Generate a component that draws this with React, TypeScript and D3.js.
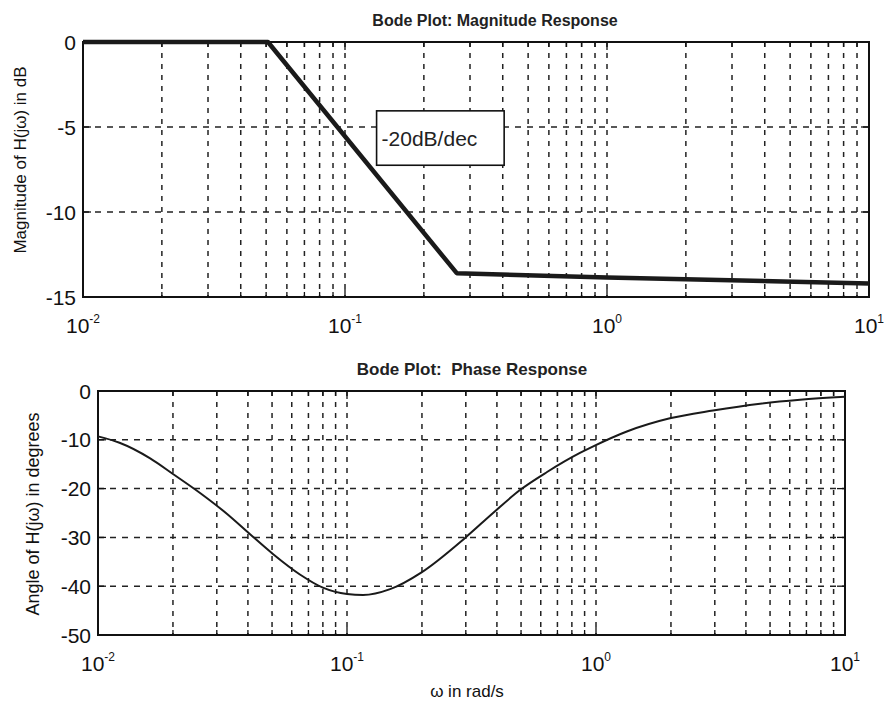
import { useEffect, useRef } from "react";
import * as d3 from "d3";

// x axis: decades shown as 10^e
const decadeExps = [-2, -1, 0, 1];

// magnitude response (asymptotic)
const magFreq = [0.01, 0.0508, 0.267, 1, 10];
const magDb = [0, 0, -13.6, -13.85, -14.2];
const magTicks = [0, -5, -10, -15];

// phase response
const phaseFreq = [
  0.01, 0.0122, 0.0162, 0.02, 0.0257, 0.033, 0.0407, 0.0504, 0.0647, 0.08,
  0.1, 0.116, 0.149, 0.2, 0.298, 0.386, 0.495, 0.636, 0.862, 0.97, 1.33,
  1.98, 2.95, 4.56, 6.6, 10,
];
const phaseDeg = [
  -9.3, -10.6, -13.8, -17.0, -20.9, -25.2, -29.3, -33.4, -37.6, -40.3, -41.6,
  -41.8, -40.6, -37.1, -30.1, -25.0, -20.3, -16.6, -12.7, -11.4, -8.3, -5.6,
  -4.0, -2.6, -1.8, -1.2,
];
const phaseTicks = [0, -10, -20, -30, -40, -50];

const FONT = "'Liberation Sans', Arial, sans-serif";

export default function App() {
  const svgRef = useRef<SVGSVGElement>(null);

  useEffect(() => {
    const svg = d3.select(svgRef.current);
    svg.selectAll("*").remove();

    const gridFreqs: number[] = [];
    for (let e = -2; e < 1; e++) {
      for (let m = 1; m < 10; m++) gridFreqs.push(m * Math.pow(10, e));
    }
    gridFreqs.push(10);

    function panel(
      box: { left: number; right: number; top: number; bottom: number },
      yDomain: [number, number],
      yTicks: number[],
    ) {
      const x = d3.scaleLog().domain([0.01, 10]).range([box.left, box.right]);
      const y = d3.scaleLinear().domain(yDomain).range([box.bottom, box.top]);
      const g = svg.append("g");

      const inner = gridFreqs.filter((f) => f > 0.0101 && f < 9.99);
      g.selectAll(".vg")
        .data(inner)
        .join("line")
        .attr("x1", (d) => x(d))
        .attr("x2", (d) => x(d))
        .attr("y1", box.top)
        .attr("y2", box.bottom)
        .attr("stroke", "#222")
        .attr("stroke-width", 1.5)
        .attr("stroke-dasharray", "5,6");

      g.selectAll(".hg")
        .data(yTicks.filter((t) => t !== yDomain[0] && t !== yDomain[1]))
        .join("line")
        .attr("x1", box.left)
        .attr("x2", box.right)
        .attr("y1", (d) => y(d))
        .attr("y2", (d) => y(d))
        .attr("stroke", "#222")
        .attr("stroke-width", 1.5)
        .attr("stroke-dasharray", "6,6");

      // tick marks (inward) on all sides
      gridFreqs.forEach((f) => {
        const major = decadeExps.some((e) => Math.abs(Math.log10(f) - e) < 1e-6);
        const len = major ? 8 : 5;
        g.append("line")
          .attr("x1", x(f)).attr("x2", x(f))
          .attr("y1", box.bottom).attr("y2", box.bottom - len)
          .attr("stroke", "#111").attr("stroke-width", 1.3);
        g.append("line")
          .attr("x1", x(f)).attr("x2", x(f))
          .attr("y1", box.top).attr("y2", box.top + len)
          .attr("stroke", "#111").attr("stroke-width", 1.3);
      });
      yTicks.forEach((t) => {
        g.append("line")
          .attr("x1", box.left).attr("x2", box.left + 8)
          .attr("y1", y(t)).attr("y2", y(t))
          .attr("stroke", "#111").attr("stroke-width", 1.3);
        g.append("line")
          .attr("x1", box.right).attr("x2", box.right - 8)
          .attr("y1", y(t)).attr("y2", y(t))
          .attr("stroke", "#111").attr("stroke-width", 1.3);
      });

      g.append("rect")
        .attr("x", box.left)
        .attr("y", box.top)
        .attr("width", box.right - box.left)
        .attr("height", box.bottom - box.top)
        .attr("fill", "none")
        .attr("stroke", "#111")
        .attr("stroke-width", 2);

      g.selectAll(".yl")
        .data(yTicks)
        .join("text")
        .attr("x", box.left - 7)
        .attr("y", (d) => y(d))
        .attr("dy", "0.36em")
        .attr("text-anchor", "end")
        .attr("font-family", FONT)
        .attr("font-size", 21)
        .attr("fill", "#111")
        .text((d) => (d === 0 ? "0" : "-" + Math.abs(d)));

      decadeExps.forEach((e) => {
        const t = g
          .append("text")
          .attr("x", x(Math.pow(10, e)))
          .attr("y", box.bottom + 36)
          .attr("text-anchor", "middle")
          .attr("font-family", FONT)
          .attr("font-size", 21)
          .attr("fill", "#111");
        t.append("tspan").text("10");
        t.append("tspan")
          .attr("dy", -10)
          .attr("font-size", 12)
          .text(String(e));
      });

      return { g, x, y };
    }

    // magnitude panel
    const top = panel({ left: 83, right: 869, top: 42, bottom: 297 }, [-15, 0], magTicks);
    const magLine = d3
      .line<number>()
      .x((_, i) => top.x(magFreq[i]))
      .y((d) => top.y(d));
    top.g
      .append("path")
      .datum(magDb)
      .attr("d", magLine)
      .attr("fill", "none")
      .attr("stroke", "#1a1a1a")
      .attr("stroke-width", 4.5)
      .attr("stroke-linejoin", "round");

    // -20dB/dec annotation box
    const bx0 = top.x(0.132);
    const bx1 = top.x(0.405);
    const by0 = top.y(-4.05);
    const by1 = top.y(-7.25);
    top.g
      .append("rect")
      .attr("x", bx0)
      .attr("y", by0)
      .attr("width", bx1 - bx0)
      .attr("height", by1 - by0)
      .attr("fill", "#fff")
      .attr("stroke", "#111")
      .attr("stroke-width", 1.6);
    top.g
      .append("text")
      .attr("x", bx0 + 5)
      .attr("y", (by0 + by1) / 2 + 8)
      .attr("font-family", FONT)
      .attr("font-size", 21)
      .attr("fill", "#222")
      .text("-20dB/dec");

    svg
      .append("text")
      .attr("x", 495)
      .attr("y", 26)
      .attr("text-anchor", "middle")
      .attr("font-family", FONT)
      .attr("font-weight", "bold")
      .attr("font-size", 16)
      .attr("fill", "#222")
      .text("Bode Plot: Magnitude Response");

    svg
      .append("text")
      .attr("transform", "translate(26,160) rotate(-90)")
      .attr("text-anchor", "middle")
      .attr("font-family", FONT)
      .attr("font-size", 17)
      .attr("fill", "#111")
      .text("Magnitude of H(jω) in dB");

    // phase panel
    const bot = panel({ left: 98, right: 845, top: 391, bottom: 635 }, [-50, 0], phaseTicks);
    const phaseLine = d3
      .line<number>()
      .x((_, i) => bot.x(phaseFreq[i]))
      .y((d) => bot.y(d))
      .curve(d3.curveMonotoneX);
    bot.g
      .append("path")
      .datum(phaseDeg)
      .attr("d", phaseLine)
      .attr("fill", "none")
      .attr("stroke", "#1a1a1a")
      .attr("stroke-width", 2);

    svg
      .append("text")
      .attr("x", 472)
      .attr("y", 375)
      .attr("text-anchor", "middle")
      .attr("font-family", FONT)
      .attr("font-weight", "bold")
      .attr("font-size", 17)
      .attr("fill", "#222")
      .style("white-space", "pre")
      .text("Bode Plot:  Phase Response");

    svg
      .append("text")
      .attr("transform", "translate(39,514) rotate(-90)")
      .attr("text-anchor", "middle")
      .attr("font-family", FONT)
      .attr("font-size", 18)
      .attr("fill", "#111")
      .text("Angle of H(jω) in degrees");

    svg
      .append("text")
      .attr("x", 467)
      .attr("y", 697)
      .attr("text-anchor", "middle")
      .attr("font-family", FONT)
      .attr("font-size", 17)
      .attr("fill", "#111")
      .text("ω in rad/s");
  }, []);

  return (
    <svg
      ref={svgRef}
      width={886}
      height={705}
      style={{ position: "absolute", left: 0, top: 0, background: "#fff" }}
    />
  );
}
